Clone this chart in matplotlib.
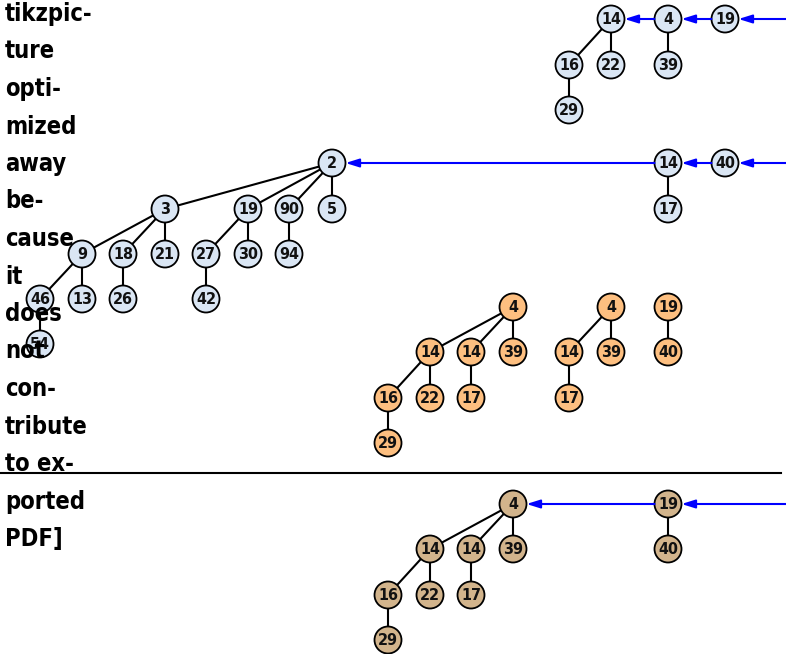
import matplotlib
matplotlib.use("Agg")
import matplotlib.pyplot as plt
from matplotlib.patches import Circle

# ---- data: node labels, layout positions (pixel layout units), parent index ----
# Group A (top, light blue)
a_labels = ["14", "4", "19", "16", "22", "39", "29"]
a_x = [611, 668, 725, 569, 611, 668, 569]
a_y = [19, 19, 19, 65, 65, 65, 110]
a_parent = [None, None, None, 0, 0, 1, 3]
a_roots_chain = [2, 1, 0]  # arrows from right: 19 -> 4 -> 14

# Group B (second, light blue)
b_labels = ["2", "14", "40", "3", "19", "90", "5", "17",
            "9", "18", "21", "27", "30", "94",
            "46", "13", "26", "42", "54"]
b_x = [332, 668, 725, 165, 248, 289, 332, 668,
       82, 123, 165, 206, 248, 289,
       40, 82, 123, 206, 40]
b_y = [163, 163, 163, 209, 209, 209, 209, 209,
       254, 254, 254, 254, 254, 254,
       299, 299, 299, 299, 344]
b_parent = [None, None, None, 0, 0, 0, 0, 1,
            3, 3, 3, 4, 4, 5,
            8, 8, 9, 11, 14]
b_roots_chain = [2, 1, 0]

# Group C (orange, no root list arrows)
c_labels = ["4", "4", "19", "14", "14", "39", "14", "39", "40",
            "16", "22", "17", "17", "29"]
c_x = [513, 611, 668, 430, 471, 513, 569, 611, 668,
       388, 430, 471, 569, 388]
c_y = [307, 307, 307, 352, 352, 352, 352, 352, 352,
       398, 398, 398, 398, 443]
c_parent = [None, None, None, 0, 0, 0, 1, 1, 2,
            3, 3, 4, 6, 9]
c_roots_chain = []

# Group D (bottom, tan)
d_labels = ["4", "19", "14", "14", "39", "40", "16", "22", "17", "29"]
d_x = [513, 668, 430, 471, 513, 668, 388, 430, 471, 388]
d_y = [504, 504, 549, 549, 549, 549, 595, 595, 595, 640]
d_parent = [None, None, 0, 0, 0, 1, 2, 2, 3, 6]
d_roots_chain = [1, 0]

side_text = ["tikzpic-", "ture", "opti-", "mized", "away", "be-", "cause",
             "it", "does", "not", "con-", "tribute", "to ex-", "ported", "PDF]"]

col_blue = "#dae6f4"
col_orange = "#fdbf80"
col_tan = "#d2b48c"
col_arrow = "#0000ff"

W, H = 786, 654
R = 13.5

fig = plt.figure(figsize=(W / 100, H / 100), dpi=100)
ax = fig.add_axes([0, 0, 1, 1])
ax.set_xlim(0, W)
ax.set_ylim(H, 0)
ax.set_aspect("equal")
ax.axis("off")


def draw_group(labels, xs, ys, parents, chain, color):
    for i, p in enumerate(parents):
        if p is not None:
            ax.plot([xs[p], xs[i]], [ys[p], ys[i]], color="black", lw=1.5,
                    zorder=1, solid_capstyle="round")
    for lab, x, y in zip(labels, xs, ys):
        ax.add_patch(Circle((x, y), R, facecolor=color, edgecolor="black",
                            lw=1.3, zorder=2))
        ax.text(x, y + 0.5, lab, ha="center", va="center", fontsize=11.5,
                fontstretch="condensed", fontweight="bold",
                color="#111111", zorder=3)
    if chain:
        start = W
        for idx in chain:
            ax.annotate("", xy=(xs[idx] + R, ys[idx]), xytext=(start, ys[idx]),
                        arrowprops=dict(arrowstyle="-|>,head_length=0.8,head_width=0.25",
                                        color=col_arrow, lw=1.5,
                                        shrinkA=0, shrinkB=0),
                        zorder=2)
            start = xs[idx] - R


draw_group(a_labels, a_x, a_y, a_parent, a_roots_chain, col_blue)
draw_group(b_labels, b_x, b_y, b_parent, b_roots_chain, col_blue)
draw_group(c_labels, c_x, c_y, c_parent, c_roots_chain, col_orange)
draw_group(d_labels, d_x, d_y, d_parent, d_roots_chain, col_tan)

ax.plot([0, 781], [473, 473], color="black", lw=1.5, zorder=1)

for i, t in enumerate(side_text):
    ax.text(5, 21 + 37.5 * i, t, ha="left", va="baseline", fontsize=17,
            fontweight="bold", fontstretch="condensed", color="black", zorder=5)

fig.savefig("out.png", dpi=100)
